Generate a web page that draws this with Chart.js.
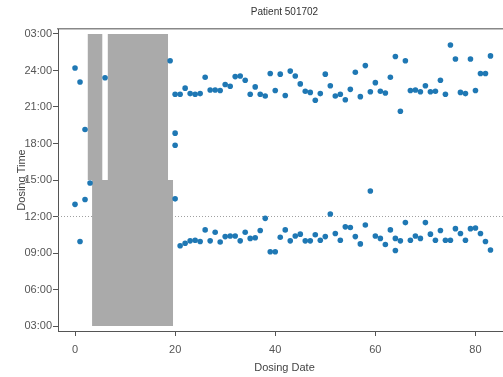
<!DOCTYPE html>
<html>
<head>
<meta charset="utf-8">
<script src="https://cdn.jsdelivr.net/npm/chart.js@4.4.1/dist/chart.umd.min.js"></script>
<style>
  html, body { margin: 0; padding: 0; overflow: hidden; background: #fff; }
</style>
</head>
<body>
<canvas id="chart" width="515" height="377"></canvas>
<script>
const chartTitle = 'Patient 501702';
const xTicks = [0, 20, 40, 60, 80];
const yTicks = [3, 6, 9, 12, 15, 18, 21, 24, 27];

// hours after midnight, values over 24 are after midnight of next day
const eveningDay = [0, 1, 2, 6, 19, 20,
    21, 22, 23, 24, 25, 26, 27, 28, 29, 30, 31, 32, 33, 34, 35, 36, 37, 38, 39, 40, 41, 42,
    43, 44, 45, 46, 47, 48, 49, 50, 51, 52, 53, 54, 55, 56, 57, 58, 59, 60, 61, 62,
    63, 64, 65, 66, 67, 68, 69, 70, 71, 72, 73, 74, 75, 76, 77, 78, 79, 80, 81, 82, 83];
const eveningHour = [24.2, 23.05, 19.15, 23.4, 24.8, 22.05,
    22.05, 22.55, 22.1, 22.05, 22.1, 23.45, 22.4, 22.4, 22.35, 22.85, 22.7, 23.5, 23.55, 23.2, 22.05, 22.65, 22.05, 21.9, 23.75, 22.35, 23.7, 21.95,
    23.95, 23.55, 22.9, 22.3, 22.2, 21.55, 22.1, 23.7, 22.75, 21.9, 22.05, 21.6, 22.45, 23.85, 21.85, 24.4, 22.25, 23.0, 22.3, 22.15,
    23.45, 25.15, 20.65, 24.8, 22.35, 22.4, 22.25, 22.75, 22.25, 22.3, 23.2, 22.05, 26.1, 24.95, 22.2, 22.1, 24.95, 22.35, 23.75, 23.75, 25.2];

const morningDay = [0, 1, 2, 3, 20,
    21, 22, 23, 24, 25, 26, 27, 28, 29, 30, 31, 32, 33, 34, 35, 36, 37, 38, 39, 40, 41, 42,
    43, 44, 45, 46, 47, 48, 49, 50, 51, 52, 53, 54, 55, 56, 57, 58, 59, 60, 61, 62,
    63, 64, 65, 66, 67, 68, 69, 70, 71, 72, 73, 74, 75, 76, 77, 78, 79, 80, 81, 82, 83];
const morningHour = [13.0, 9.95, 13.4, 14.75, 13.45,
    9.6, 9.8, 10.0, 10.05, 9.95, 10.9, 10.0, 10.7, 9.9, 10.35, 10.4, 10.4, 10.0, 10.7, 10.2, 10.25, 10.85, 11.85, 9.1, 9.1, 10.3, 10.9,
    10.0, 10.4, 10.55, 10.0, 10.0, 10.5, 10.05, 10.35, 12.2, 10.6, 10.05, 11.15, 11.1, 10.35, 9.75, 11.3, 14.1, 10.4, 10.2, 9.7,
    10.9, 10.2, 10.0, 11.5, 10.05, 10.4, 10.2, 11.5, 10.55, 10.05, 10.85, 10.05, 10.05, 11.0, 10.6, 10.05, 11.0, 11.05, 10.6, 9.95, 9.25];

const extraDay = [20, 20, 64];
const extraHour = [18.85, 17.85, 9.2];

// grey blocks
const gapStart = [2.5, 6.5, 3.4];
const gapEnd = [5.5, 18.6, 19.6];
const gapLow = [15, 15, 3];
const gapHigh = [27, 27, 15];

const refHour = 12;
const xMin = -3.4, xMax = 87.1;
const yMin = 2.59, yMax = 27.41;

function hourLabel(h) {
    const hh = h === 24 ? 24 : h % 24;
    return String(hh).padStart(2, '0') + ':00';
}

const points = [];
eveningDay.forEach((d, i) => points.push({x: d, y: eveningHour[i]}));
morningDay.forEach((d, i) => points.push({x: d, y: morningHour[i]}));
extraDay.forEach((d, i) => points.push({x: d, y: extraHour[i]}));

const datasets = [{
    type: 'scatter',
    data: points,
    backgroundColor: '#1f78b4',
    borderWidth: 0,
    pointRadius: 2.8
}];
gapStart.forEach((s, i) => {
    datasets.push({
        type: 'line',
        data: [{x: s, y: gapLow[i]}, {x: gapEnd[i], y: gapLow[i]}],
        borderWidth: 0,
        pointRadius: 0,
        backgroundColor: '#aaaaaa',
        fill: {value: gapHigh[i]}
    });
});
datasets.push({
    type: 'line',
    data: [{x: xMin, y: refHour}, {x: xMax, y: refHour}],
    borderColor: '#a0a0a0',
    borderWidth: 1,
    borderDash: [1, 2],
    pointRadius: 0,
    fill: false
});

const font = {family: 'Liberation Sans, Arial, sans-serif', size: 11};
const axisColor = '#555';

const ctx = document.getElementById('chart').getContext('2d');
new Chart(ctx, {
    type: 'scatter',
    data: {datasets: datasets},
    options: {
        responsive: false,
        animation: false,
        layout: {padding: 0},
        plugins: {legend: {display: false}, tooltip: {enabled: false}},
        scales: {
            x: {
                type: 'linear', position: 'bottom', min: xMin, max: xMax,
                afterBuildTicks: s => { s.ticks = xTicks.map(v => ({value: v})); },
                afterFit: s => { s.height = 46; },
                ticks: {font: font, color: axisColor, padding: 7},
                grid: {drawOnChartArea: false, tickLength: 5, color: axisColor},
                border: {color: axisColor},
                title: {display: true, text: 'Dosing Date', font: font, color: '#444', padding: {top: 0, bottom: 2}}
            },
            xTop: {
                type: 'linear', position: 'top', axis: 'x', min: xMin, max: xMax, display: true,
                afterFit: s => { s.height = 29; },
                ticks: {display: false},
                grid: {display: false},
                border: {display: true, color: '#888', width: 1.5},
                title: {display: true, text: chartTitle, font: {family: font.family, size: 10}, color: '#333', padding: {top: 6, bottom: 0}}
            },
            y: {
                type: 'linear', position: 'left', min: yMin, max: yMax,
                afterBuildTicks: s => { s.ticks = yTicks.map(v => ({value: v})); },
                afterFit: s => { s.width = 58; },
                ticks: {font: font, color: axisColor, padding: 1, callback: v => hourLabel(v)},
                grid: {drawOnChartArea: false, tickLength: 5, color: axisColor},
                border: {color: axisColor},
                title: {display: true, text: 'Dosing Time', font: font, color: '#444', padding: {top: 15, bottom: 0}}
            }
        }
    }
});
</script>
</body>
</html>
